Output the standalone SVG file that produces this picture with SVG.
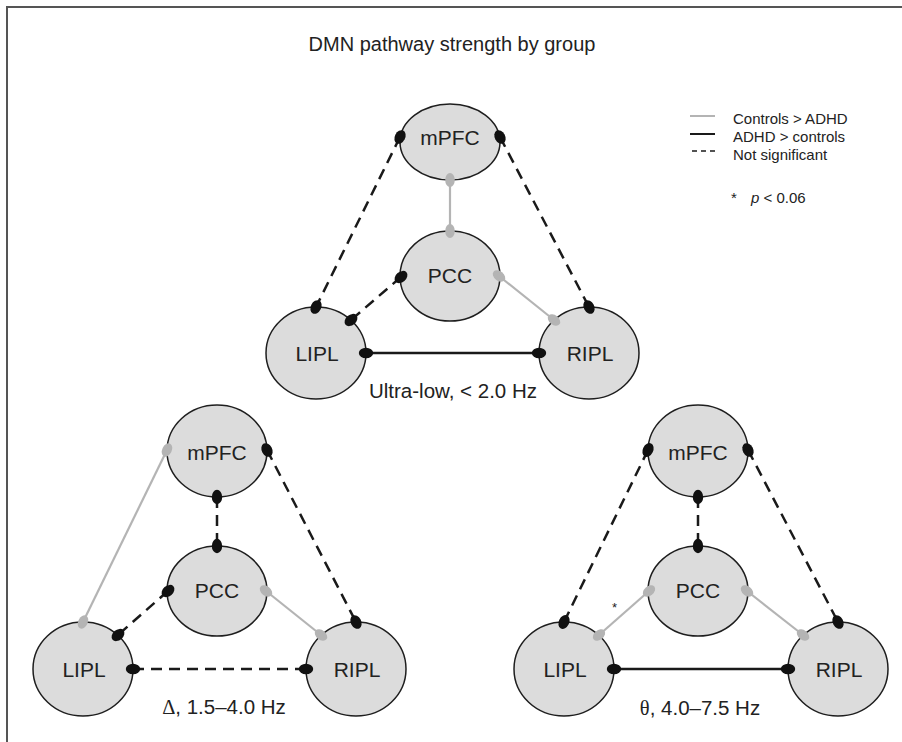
<svg xmlns="http://www.w3.org/2000/svg" width="902" height="742" viewBox="0 0 902 742">
<style>
.node{fill:#dcdcdc;stroke:#1e1e1e;stroke-width:1.5}
.lbl{font-family:"Liberation Sans",Arial,sans-serif;font-size:21px;fill:#222;text-anchor:middle}
.freq{font-family:"Liberation Sans",Arial,sans-serif;font-size:20.5px;fill:#222;text-anchor:middle}
.title{font-family:"Liberation Sans",Arial,sans-serif;font-size:20px;fill:#222;text-anchor:middle}
.leg{font-family:"Liberation Sans",Arial,sans-serif;font-size:15px;fill:#222}
.ns{stroke:#1a1a1a;stroke-width:2.5;stroke-dasharray:11,7;fill:none;marker-start:url(#dB);marker-end:url(#dB)}
.adhd{stroke:#1a1a1a;stroke-width:2.5;fill:none;marker-start:url(#dB);marker-end:url(#dB)}
.ctrl{stroke:#b4b4b4;stroke-width:2.2;fill:none;marker-start:url(#dG);marker-end:url(#dG)}
</style>
<defs>
<marker id="dB" markerUnits="userSpaceOnUse" markerWidth="16" markerHeight="12" refX="8" refY="6" orient="auto" viewBox="0 0 16 12">
<ellipse cx="8" cy="6" rx="7.2" ry="5.2" fill="#111"/>
</marker>
<marker id="dG" markerUnits="userSpaceOnUse" markerWidth="16" markerHeight="12" refX="8" refY="6" orient="auto" viewBox="0 0 16 12">
<ellipse cx="8" cy="6" rx="7" ry="4.8" fill="#b4b4b4"/>
</marker>
</defs>
<rect width="902" height="742" fill="#fff"/>
<g id="frame" stroke="#555" stroke-width="2" fill="none">
<path d="M7,742 V7 H902"/>
</g>
<text class="title" x="452" y="51">DMN pathway strength by group</text>

<g id="legend">
<line x1="690" y1="116" x2="715" y2="116" stroke="#b4b4b4" stroke-width="2"/>
<line x1="690" y1="134" x2="715" y2="134" stroke="#1a1a1a" stroke-width="2"/>
<line x1="692" y1="151" x2="716" y2="151" stroke="#1a1a1a" stroke-width="1.5" stroke-dasharray="5,4"/>
<text class="leg" x="733" y="124">Controls &gt; ADHD</text>
<text class="leg" x="733" y="142">ADHD &gt; controls</text>
<text class="leg" x="733" y="160">Not significant</text>
<text class="leg" x="731" y="203">*<tspan x="751" font-style="italic">p</tspan> &lt; 0.06</text>
</g>

<!-- Top panel -->
<g id="top-mPFC"><ellipse class="node" cx="450" cy="142" rx="50" ry="38"/><text class="lbl" x="450" y="145">mPFC</text></g>
<g id="top-PCC"><ellipse class="node" cx="450" cy="276" rx="50" ry="45"/><text class="lbl" x="450" y="283">PCC</text></g>
<g id="top-LIPL"><ellipse class="node" cx="316" cy="353" rx="50" ry="46"/><text class="lbl" x="317" y="361">LIPL</text></g>
<g id="top-RIPL"><ellipse class="node" cx="589" cy="353" rx="50" ry="46"/><text class="lbl" x="590" y="361">RIPL</text></g>
<text class="freq" x="453" y="398">Ultra-low, &lt; 2.0 Hz</text>
<g id="connectors-top">
<line class="ns" x1="400" y1="137" x2="316" y2="307"/>
<line class="ns" x1="500" y1="137" x2="589" y2="307"/>
<line class="ctrl" x1="450" y1="180" x2="450" y2="231"/>
<line class="ns" x1="401" y1="277" x2="351" y2="320"/>
<line class="ctrl" x1="499" y1="276" x2="554" y2="320"/>
<line class="adhd" x1="366" y1="353" x2="539" y2="353"/>
</g>

<!-- Bottom-left panel -->
<g id="delta-mPFC"><ellipse class="node" cx="217" cy="451" rx="50" ry="46"/><text class="lbl" x="217" y="460">mPFC</text></g>
<g id="delta-PCC"><ellipse class="node" cx="217" cy="591" rx="50" ry="45"/><text class="lbl" x="217" y="598">PCC</text></g>
<g id="delta-LIPL"><ellipse class="node" cx="83" cy="669" rx="50" ry="47"/><text class="lbl" x="84" y="677">LIPL</text></g>
<g id="delta-RIPL"><ellipse class="node" cx="356" cy="669" rx="50" ry="47"/><text class="lbl" x="357" y="677">RIPL</text></g>
<text class="freq" x="224" y="714"><tspan font-family="'Liberation Serif',serif">Δ</tspan>, 1.5–4.0 Hz</text>
<g id="connectors-delta">
<line class="ctrl" x1="167" y1="450" x2="83" y2="622"/>
<line class="ns" x1="267" y1="450" x2="356" y2="622"/>
<line class="ns" x1="217" y1="497" x2="217" y2="546"/>
<line class="ns" x1="168" y1="591" x2="118" y2="635"/>
<line class="ctrl" x1="266" y1="591" x2="321" y2="635"/>
<line class="ns" x1="133" y1="669" x2="306" y2="669"/>
</g>

<!-- Bottom-right panel -->
<g id="theta-mPFC"><ellipse class="node" cx="698" cy="451" rx="50" ry="46"/><text class="lbl" x="698" y="460">mPFC</text></g>
<g id="theta-PCC"><ellipse class="node" cx="698" cy="591" rx="50" ry="45"/><text class="lbl" x="698" y="598">PCC</text></g>
<g id="theta-LIPL"><ellipse class="node" cx="564" cy="669" rx="50" ry="47"/><text class="lbl" x="565" y="677">LIPL</text></g>
<g id="theta-RIPL"><ellipse class="node" cx="838" cy="669" rx="50" ry="47"/><text class="lbl" x="839" y="677">RIPL</text></g>
<text class="freq" x="700" y="715"><tspan font-family="'Liberation Serif',serif">θ</tspan>, 4.0–7.5 Hz</text>
<g id="connectors-theta">
<line class="ns" x1="648" y1="450" x2="564" y2="622"/>
<line class="ns" x1="748" y1="450" x2="838" y2="622"/>
<line class="ns" x1="698" y1="497" x2="698" y2="546"/>
<line class="ctrl" x1="649" y1="591" x2="599" y2="635"/>
<line class="ctrl" x1="747" y1="591" x2="803" y2="635"/>
<line class="adhd" x1="614" y1="669" x2="788" y2="669"/>
</g>
<text class="leg" x="612" y="612" style="font-size:13px">*</text>
</svg>
